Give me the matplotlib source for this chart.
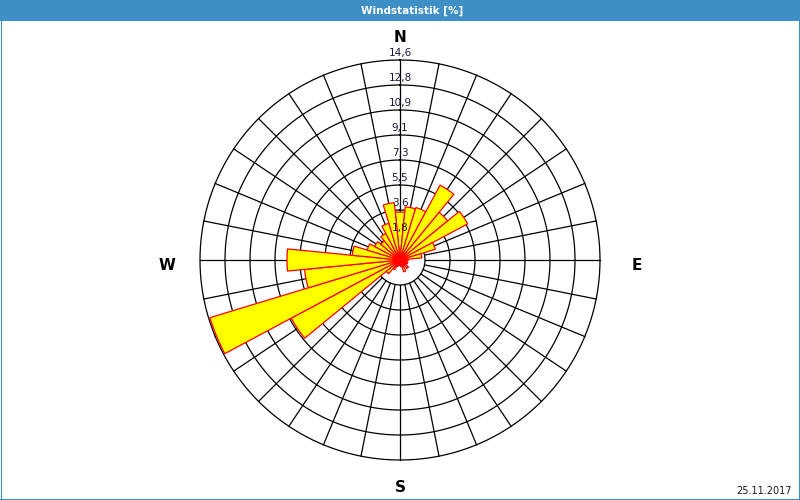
import numpy as np
import matplotlib
matplotlib.use("Agg")
import matplotlib.pyplot as plt
from matplotlib.patches import Rectangle
from matplotlib.lines import Line2D

# wind direction sectors (32 x 11.25 deg, clockwise from north)
directions = np.arange(32) * 11.25
# share of each sector in percent
shares = [3.5, 3.9, 4.0, 6.2, 4.5, 5.6, 2.7, 1.6,
          0.6, 0.5, 0.6, 0.5, 0.8, 0.5, 0.9, 0.5,
          0.4, 0.3, 0.5, 0.8, 1.3, 9.0, 14.5, 7.0,
          8.25, 3.5, 2.5, 2.1, 1.8, 2.2, 2.8, 4.2]
ring_values = [1.825 * k for k in range(1, 9)]
ring_labels = ["1,8", "3,6", "5,5", "7,3", "9,1", "10,9", "12,8", "14,6"]
title = "Windstatistik [%]"
date_text = "25.11.2017"

blue = "#3d8fc6"
r_max = ring_values[-1]

fig = plt.figure(figsize=(8, 5), dpi=100, facecolor="white")

# header bar and frame
fig.patches.append(Rectangle((0, 1 - 21 / 500), 1, 21 / 500, transform=fig.transFigure,
                             facecolor=blue, edgecolor="none", zorder=0))
for xs, ys in [([0.6 / 800, 0.6 / 800], [0, 1]),
               ([1 - 0.6 / 800, 1 - 0.6 / 800], [0, 1]),
               ([0, 1], [0.6 / 500, 0.6 / 500])]:
    fig.add_artist(Line2D(xs, ys, transform=fig.transFigure, color=blue, lw=0.8))
fig.text(412 / 800, 1 - 11 / 500, title, ha="center", va="center", color="white",
         fontsize=7.5, fontweight="bold")

ax = fig.add_axes([200 / 800, 40 / 500, 400 / 800, 400 / 500], projection="polar")
ax.set_theta_zero_location("N")
ax.set_theta_direction(-1)
ax.set_ylim(0, r_max)
ax.set_axis_off()

# grid circles
t = np.linspace(0, 2 * np.pi, 721)
for r in ring_values:
    ax.plot(t, np.full_like(t, r), color="black", lw=0.9, zorder=2, clip_on=False)

# spokes
for d in directions:
    th = np.deg2rad(d)
    ax.plot([th, th], [ring_values[0], r_max], color="black", lw=0.9, zorder=2,
            clip_on=False)

# bars
ax.bar(np.deg2rad(directions), shares, width=np.deg2rad(11.25), bottom=0,
       color="#ffff00", edgecolor="#ff0000", linewidth=0.9, zorder=3,
       align="center")

# ring labels along the north axis
for r, lab in zip(ring_values, ring_labels):
    ax.text(0, r + 0.12, lab, ha="center", va="bottom", fontsize=7.5,
            color="#1a1a3a", zorder=5)

# cardinal points
fig.text(400 / 800, 1 - 37 / 500, "N", ha="center", va="center", fontsize=11,
         fontweight="bold")
fig.text(400 / 800, 1 - 488 / 500, "S", ha="center", va="center", fontsize=11,
         fontweight="bold")
fig.text(637 / 800, 1 - 265 / 500, "E", ha="center", va="center", fontsize=11,
         fontweight="bold")
fig.text(167 / 800, 1 - 265 / 500, "W", ha="center", va="center", fontsize=11,
         fontweight="bold")

fig.text(792 / 800, 1 - 491 / 500, date_text, ha="right", va="center", fontsize=7,
         color="#1a1a1a")

fig.savefig("out.png", dpi=100, facecolor="white")
